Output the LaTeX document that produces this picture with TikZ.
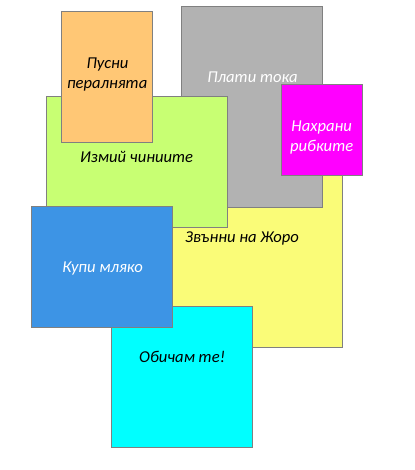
\documentclass[tikz,border=0pt]{standalone}
\usepackage{fontspec}
\setmainfont{Carlito}
\definecolor{cgray}{RGB}{178,178,178}
\definecolor{cgreen}{RGB}{200,255,115}
\definecolor{corange}{RGB}{255,199,117}
\definecolor{cyellow}{RGB}{250,252,120}
\definecolor{cmag}{RGB}{255,0,255}
\definecolor{cblue}{RGB}{61,148,229}
\definecolor{ccyan}{RGB}{0,255,255}
\definecolor{cedge}{RGB}{128,128,128}
\tikzset{
  note/.style={draw=cedge, line width=0.9pt, anchor=north west, inner sep=0pt, outer sep=0pt},
  lbl/.style={anchor=base, inner sep=0pt, font=\fontsize{16.6}{20}\selectfont\itshape},
}
\newcommand{\notebox}[6]{% name, color, x1, y1, x2, y2
  \node[note, fill=#2, minimum width={#5-#3}, minimum height={#6-#4}] (#1) at (#3,#4) {};}
\begin{document}
\begin{tikzpicture}[x=1pt,y=-1pt]
\useasboundingbox (0,0) rectangle (414,470);
\fill[white] (0,0) rectangle (414,470);
\notebox{yellow}{cyellow}{142}{130}{342.5}{347}
\node[lbl] (yt) at (242,242.7) {Звънни на Жоро};
\notebox{gray}{cgray}{181.5}{6.5}{322.5}{207.3}
\node[lbl, text=white] (gt) at (252.5,82.3) {Плати тока};
\notebox{green}{cgreen}{46.5}{96.7}{227.5}{227.3}
\node[lbl] (grt) at (136.7,162.7) {Измий чиниите};
\notebox{orange}{corange}{61.5}{11.5}{152.5}{142.3}
\node[lbl] (ot1) at (107.5,68.3) {Пусни};
\node[lbl] (ot2) at (107.2,89) {пералнята};
\notebox{magenta}{cmag}{281.5}{84.7}{362.5}{175.3}
\node[lbl, text=white] (mt1) at (321.7,131.7) {Нахрани};
\node[lbl, text=white] (mt2) at (321.7,151.7) {рибките};
\notebox{cyan}{ccyan}{111.5}{306.3}{252.5}{447.3}
\node[lbl] (ct) at (182.2,362.3) {Обичам те!};
\notebox{blue}{cblue}{31.5}{206.3}{172.5}{327.3}
\node[lbl, text=white] (bt) at (102.7,272.7) {Купи мляко};
\end{tikzpicture}
\end{document}
